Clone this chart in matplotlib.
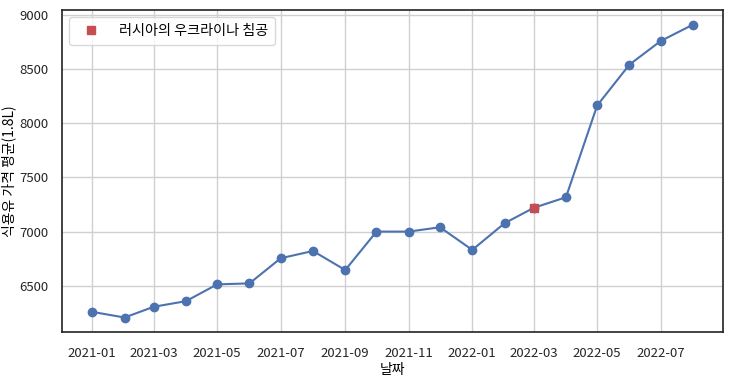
import matplotlib
matplotlib.use("Agg")
import matplotlib.pyplot as plt
import matplotlib.dates as mdates
import pandas as pd

plt.rcParams['font.family'] = ['Noto Sans CJK KR', 'DejaVu Sans']
plt.rcParams['axes.unicode_minus'] = False

# 월별 식용유 평균 가격 (1.8L)
months = pd.date_range("2021-01-01", "2022-08-01", freq="MS")
prices = [6259, 6207, 6306, 6358, 6513, 6522, 6754, 6821, 6645, 7000,
          7000, 7040, 6831, 7077, 7219, 7317, 8164, 8541, 8759, 8910]
event_date = pd.Timestamp("2022-03-01")
event_label = "러시아의 우크라이나 침공"

blue = "#4C72B0"
red = "#C44E52"

fig = plt.figure(figsize=(7.5, 3.84), dpi=100)
ax = fig.add_axes([0.083, 0.135, 0.881, 0.839])

ax.plot(months, prices, color=blue, marker="o", markersize=6, linewidth=1.5, zorder=3)
event_price = prices[list(months).index(event_date)]
ax.plot([event_date], [event_price], linestyle="none", marker="s", markersize=6,
        color=red, label=event_label, zorder=4)

ax.set_yticks([6500, 7000, 7500, 8000, 8500, 9000])
ax.xaxis.set_major_locator(mdates.MonthLocator(bymonth=[1, 3, 5, 7, 9, 11]))
ax.xaxis.set_major_formatter(mdates.DateFormatter("%Y-%m"))
ax.grid(True, color="#d0d0d0", linewidth=1)
ax.set_axisbelow(True)
for s in ax.spines.values():
    s.set_color("#222222")
    s.set_linewidth(1.2)
ax.tick_params(axis="x", length=0, labelsize=9.5, colors="#262626", pad=11)
ax.tick_params(axis="y", length=0, labelsize=9.5, colors="#262626", pad=10)

ax.set_xlabel("날짜", fontsize=10, labelpad=2)
ax.set_ylabel("식용유 가격 평균(1.8L)", fontsize=10)
# 왼쪽 가장자리 가까이 (라벨 오른쪽 끝 기준)
ax.yaxis.set_label_coords(-0.069, 0.5)

ax.legend(loc="upper left", fontsize=10.2, handletextpad=1.0, frameon=True,
          edgecolor="#d0d0d0", borderpad=0.5)

fig.savefig("out.png", dpi=100)
